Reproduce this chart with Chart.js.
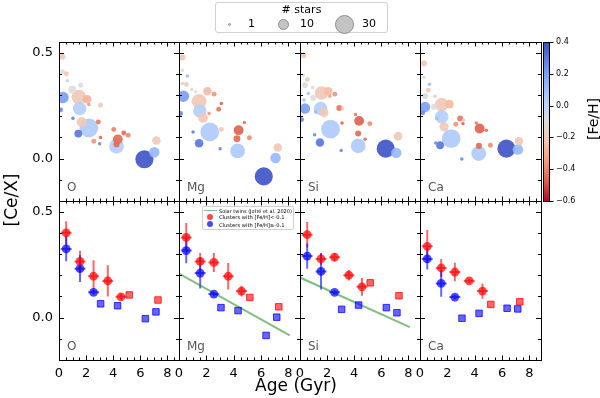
<!DOCTYPE html>
<html><head><meta charset="utf-8">
<script src="https://cdn.jsdelivr.net/npm/chart.js@4/dist/chart.umd.min.js"></script>
<style>
html,body{margin:0;padding:0;background:#fff;}
#wrap{position:relative;width:600px;height:398px;overflow:hidden;font-family:"DejaVu Sans",sans-serif;color:#000;}
#wrap canvas{position:absolute;left:0;top:0;}
.t{position:absolute;white-space:nowrap;}
.plab{position:absolute;font-size:12px;line-height:12px;color:#555;}
.dot{position:absolute;border-radius:50%;box-sizing:border-box;}
</style></head>
<body><div id="wrap"></div>
<script>
// ---------------- data ----------------
const X_MIN = 0, X_MAX = 8.85, Y_MIN = -0.2, Y_MAX = 0.55;
const xTickLabels = [0, 2, 4, 6, 8];
const yTickLabels = [0.0, 0.5];
const cbTickLabels = [-0.6, -0.4, -0.2, 0.0, 0.2, 0.4];
const elements = ['O', 'Mg', 'Si', 'Ca'];

// top row: individual clusters (age, [Ce/X], [Fe/H], number of stars)
const ageO = [0.25,0.25,0.54,0.61,0.29,0.98,1.59,1.47,2.08,2.2,3.06,0.12,1.52,1.03,1.67,2.2,2.9,1.42,2.57,3.06,3.0,4.04,4.34,4.78,5.1,4.24,4.24,7.18,7.03,6.3];
const ceO  = [0.48,0.41,0.40,0.367,0.288,0.326,0.346,0.29,0.28,0.255,0.252,0.23,0.236,0.19,0.173,0.145,0.173,0.118,0.082,0.10,0.07,0.137,0.091,0.121,0.11,0.058,0.066,0.085,0.03,-0.003];
const fehO = [-0.2,-0.1,-0.22,0.0,0.2,-0.1,-0.08,-0.2,-0.28,-0.35,-0.2,0.25,0.03,0.28,-0.2,0.05,-0.42,0.3,-0.36,-0.45,0.25,-0.4,-0.45,-0.45,-0.38,0.03,-0.45,-0.2,0.12,0.38];
const nO   = [3,2,2,1,11,5,2,18,6,1,2,2,15,1,8,29,2,5,2,1,1,2,8,2,2,18,3,6,9,27];

const ageMg = [0.25,0.25,0.61,0.54,0.25,0.93,1.22,0.32,2.08,2.57,1.47,3.1,2.9,0.12,1.52,1.76,2.2,4.78,1.03,2.25,3.1,4.36,4.24,5.15,1.47,3.01,4.29,7.23,7.06,6.2];
const ceMg  = [0.477,0.417,0.39,0.35,0.354,0.326,0.315,0.294,0.318,0.304,0.27,0.26,0.233,0.213,0.225,0.192,0.213,0.17,0.126,0.126,0.137,0.134,0.094,0.098,0.072,0.047,0.036,0.052,0.003,-0.084];
const fehMg = [-0.2,-0.08,0.1,-0.2,-0.02,-0.12,-0.1,0.2,-0.25,-0.36,-0.2,-0.47,-0.42,0.25,0.03,-0.2,-0.36,-0.42,0.28,0.05,-0.2,-0.47,-0.45,-0.38,0.3,0.25,0.05,-0.2,0.12,0.38];
const nMg   = [3,1,1,2,1,1,1,11,6,2,18,1,2,2,15,8,1,1,1,29,2,8,4,2,6,1,18,6,9,27];

const ageSi = [0.25,0.25,0.54,0.37,0.93,0.61,1.59,2.08,2.2,2.57,0.98,0.29,0.37,1.52,1.76,1.15,2.9,3.14,0.12,4.09,4.36,5.15,3.1,2.25,1.08,4.29,7.23,4.8,1.47,3.04,4.29,6.32,7.1];
const ceSi  = [0.488,0.394,0.373,0.346,0.335,0.307,0.31,0.318,0.294,0.304,0.287,0.276,0.236,0.236,0.217,0.22,0.239,0.236,0.184,0.208,0.178,0.165,0.168,0.139,0.113,0.118,0.106,0.091,0.076,0.038,0.06,0.047,0.027];
const fehSi = [-0.2,-0.1,-0.2,-0.08,-0.15,0.08,-0.2,-0.25,-0.32,-0.36,-0.1,0.1,0.2,0.03,-0.2,0.1,-0.42,-0.2,0.25,-0.42,-0.47,-0.38,-0.47,0.05,0.25,-0.45,-0.2,-0.45,0.3,0.25,0.05,0.38,0.12];
const nSi   = [3,1,2,3,1,1,15,6,1,2,3,1,9,15,7,1,3,1,2,1,8,2,1,29,1,3,6,1,6,1,18,27,9];

const ageCa = [0.29,0.29,0.69,0.61,0.37,1.1,1.59,2.16,1.03,0.37,0.2,1.59,1.22,2.94,3.19,3.14,2.62,1.76,4.12,4.36,4.85,2.28,1.15,1.47,4.31,5.15,7.23,6.32,7.16,4.29,3.06];
const ceCa  = [0.449,0.384,0.351,0.323,0.294,0.294,0.255,0.257,0.244,0.244,0.216,0.197,0.189,0.189,0.181,0.165,0.162,0.15,0.168,0.142,0.134,0.094,0.074,0.063,0.06,0.063,0.082,0.047,0.043,0.024,-0.002];
const fehCa = [-0.2,-0.08,0.1,-0.2,-0.08,-0.2,-0.2,-0.25,-0.1,0.2,0.25,0.03,0.1,-0.42,-0.2,-0.47,-0.36,-0.2,-0.42,-0.47,-0.45,0.05,0.25,0.3,-0.45,-0.38,-0.2,0.38,0.12,0.05,0.25];
const nCa   = [3,1,1,2,3,1,15,6,3,9,2,15,1,3,1,1,2,7,1,8,1,29,1,5,3,2,6,27,9,18,1];

// bottom row: binned clusters
const binAgePoor = [0.53, 1.55, 2.55, 3.6, 4.57];
const binAgeRich = [0.53, 1.55, 2.55];
const binAgeErr = 0.4;
const sqAgePoor = [5.18, 7.3];
const sqAgeRich = [3.07, 4.32, 6.37, 7.15];

const poorO = [0.40,0.265,0.195,0.173,0.098],  poorErrO = [0.055,0.05,0.076,0.074,0.015];
const richO = [0.324,0.231,0.119],             richErrO = [0.058,0.063,0.01];
const sqPoorO = [0.107,0.083], sqRichO = [0.065,0.056,-0.005,0.027];

const poorMg = [0.378,0.265,0.26,0.195,0.125], poorErrMg = [0.068,0.04,0.045,0.062,0.025];
const richMg = [0.316,0.21,0.111],             richErrMg = [0.06,0.073,0.01];
const sqPoorMg = [0.095,0.051], sqRichMg = [0.047,0.033,-0.084,0.002];

const poorSi = [0.391,0.277,0.285,0.2,0.145],  poorErrSi = [0.06,0.027,0.02,0.025,0.042];
const richSi = [0.29,0.218,0.119],             richErrSi = [0.06,0.085,0.01];
const sqPoorSi = [0.164,0.103], sqRichSi = [0.039,0.059,0.047,0.023];

const poorCa = [0.336,0.234,0.215,0.173,0.125], poorErrCa = [0.077,0.043,0.044,0.01,0.036];
const richCa = [0.277,0.161,0.097],             richErrCa = [0.05,0.063,0.01];
const sqPoorCa = [0.062,0.075], sqRichCa = [-0.003,0.02,0.044,0.041];

// solar twins trend (Jofré et al. 2020)
const twinAge = [0, 8.1];
const twinMg = [0.207, -0.084];
const twinSi = [0.189, -0.045];

// ---------------- helpers ----------------
const FONT = '"DejaVu Sans", sans-serif';
const colEdges = [59, 179, 300, 420, 541];
const rowEdges = [42, 201, 360];
const AXW = 45, AXH = 30;
const wrap = document.getElementById('wrap');

const CW = [[59,76,192],[98,130,234],[141,176,254],[184,208,249],[221,221,221],[245,196,173],[244,154,123],[222,96,77],[180,4,38]];
function coolwarm(s){ s=Math.min(1,Math.max(0,s)); const f=s*8; const i=Math.min(7,Math.floor(f)); const t=f-i; const a=CW[i], b=CW[i+1]; return a.map((v,k)=>Math.round(v+(b[k]-v)*t)); }
function fehColor(v, alpha){ const c=coolwarm(0.4 - v); return `rgba(${c[0]},${c[1]},${c[2]},${alpha})`; }

function newCanvas(){ const c=document.createElement('canvas'); c.width=600; c.height=398; c.style.width='600px'; c.style.height='398px'; wrap.appendChild(c); return c; }

const frameTicks = {
  id:'frameTicks',
  afterDraw(chart){
    const {ctx, chartArea:a, scales:{x,y}} = chart;
    ctx.save();
    ctx.strokeStyle='#000'; ctx.lineWidth=1;
    ctx.beginPath();
    for (let i=0; i*0.5<=X_MAX+1e-9; i++){
      const v=i*0.5; const px=Math.round(x.getPixelForValue(v))+0.5;
      const L = (i%4===0) ? 4.5 : 2.5;
      ctx.moveTo(px,a.bottom); ctx.lineTo(px,a.bottom-L);
      ctx.moveTo(px,a.top); ctx.lineTo(px,a.top+L);
    }
    for (let i=-1; i<=5; i++){
      const v=i/10; const py=Math.round(y.getPixelForValue(v))+0.5;
      const L = (i%5===0) ? 5 : 3;
      ctx.moveTo(a.left,py); ctx.lineTo(a.left+L,py);
      ctx.moveTo(a.right,py); ctx.lineTo(a.right-L,py);
    }
    ctx.stroke();
    const l=Math.round(a.left), t=Math.round(a.top), r=Math.round(a.right), b=Math.round(a.bottom);
    ctx.strokeRect(l+0.5,t+0.5,r-l,b-t);
    ctx.restore();
  }
};

const errorBars = {
  id:'errorBars',
  beforeDatasetsDraw(chart){
    const {ctx, chartArea:a, scales:{x,y}} = chart;
    ctx.save();
    ctx.beginPath(); ctx.rect(a.left,a.top,a.width,a.height); ctx.clip();
    chart.data.datasets.forEach(ds=>{
      if(!ds.errY) return;
      ctx.strokeStyle=ds.errColor; ctx.lineWidth=2;
      ds.data.forEach((p,i)=>{
        const px=x.getPixelForValue(p.x), py=y.getPixelForValue(p.y);
        ctx.beginPath();
        ctx.moveTo(px, y.getPixelForValue(p.y-ds.errY[i])); ctx.lineTo(px, y.getPixelForValue(p.y+ds.errY[i]));
        ctx.moveTo(x.getPixelForValue(p.x-ds.errX), py); ctx.lineTo(x.getPixelForValue(p.x+ds.errX), py);
        ctx.stroke();
      });
    });
    ctx.restore();
  }
};

function panelOptions(col,row){
  const L=colEdges[col], R=colEdges[col+1], T=rowEdges[row], B=rowEdges[row+1];
  return {
    responsive:false, animation:false, devicePixelRatio:1, events:[],
    layout:{padding:{left:L-AXW, right:600-R, top:T, bottom:398-B-AXH}},
    plugins:{legend:{display:false}, tooltip:{enabled:false}},
    scales:{
      x:{type:'linear', min:X_MIN, max:X_MAX,
         grid:{display:false, drawTicks:false}, border:{display:false},
         ticks:{display: row===1, font:{family:FONT,size:13}, color:'#000', padding:6, autoSkip:false, maxRotation:0, callback:v=>String(v)},
         afterBuildTicks:s=>{ s.ticks = xTickLabels.map(v=>({value:v})); },
         afterFit:s=>{ s.height=AXH; }},
      y:{type:'linear', min:Y_MIN, max:Y_MAX,
         grid:{display:false, drawTicks:false}, border:{display:false},
         ticks:{display: col===0, font:{family:FONT,size:13}, color:'#000', padding:6, autoSkip:false, callback:v=>Number(v).toFixed(1)},
         afterBuildTicks:s=>{ s.ticks = yTickLabels.map(v=>({value:v})); },
         afterFit:s=>{ s.width=AXW; }}
    }
  };
}

// ---------------- top row: bubbles ----------------
const topSets = [[ageO,ceO,fehO,nO],[ageMg,ceMg,fehMg,nMg],[ageSi,ceSi,fehSi,nSi],[ageCa,ceCa,fehCa,nCa]];
topSets.forEach(([age,ce,feh,n],col)=>{
  const idx = age.map((_,i)=>i).sort((a,b)=>n[b]-n[a]);
  new Chart(newCanvas(), {
    type:'bubble',
    data:{datasets:[{
      data: idx.map(i=>({x:age[i], y:ce[i], r:1.74*Math.sqrt(n[i])})),
      backgroundColor: idx.map(i=>fehColor(feh[i],0.92)),
      borderWidth:0, clip:0
    }]},
    options: panelOptions(col,0),
    plugins:[frameTicks]
  });
});

// ---------------- bottom row: binned ----------------
const botSets = [
  [poorO,poorErrO,richO,richErrO,sqPoorO,sqRichO,null],
  [poorMg,poorErrMg,richMg,richErrMg,sqPoorMg,sqRichMg,twinMg],
  [poorSi,poorErrSi,richSi,richErrSi,sqPoorSi,sqRichSi,twinSi],
  [poorCa,poorErrCa,richCa,richErrCa,sqPoorCa,sqRichCa,null]
];
botSets.forEach(([poor,poorErr,rich,richErr,sqPoor,sqRich,twin],col)=>{
  const ds = [
    {type:'scatter', order:1, data: poor.map((v,i)=>({x:binAgePoor[i], y:v})), errY:poorErr, errX:binAgeErr, errColor:'rgba(255,0,0,0.6)',
     pointStyle:'circle', pointRadius:4.4, backgroundColor:'rgba(255,0,0,0.72)', borderWidth:0, clip:0},
    {type:'scatter', order:1, data: rich.map((v,i)=>({x:binAgeRich[i], y:v})), errY:richErr, errX:binAgeErr, errColor:'rgba(0,0,255,0.6)',
     pointStyle:'circle', pointRadius:4.4, backgroundColor:'rgba(0,0,255,0.72)', borderWidth:0, clip:0},
    {type:'scatter', order:2, data: sqPoor.map((v,i)=>({x:sqAgePoor[i], y:v})),
     pointStyle:'rect', pointRadius:4.6, backgroundColor:'rgba(255,0,0,0.6)', borderColor:'rgba(255,0,0,0.75)', borderWidth:1, clip:0},
    {type:'scatter', order:2, data: sqRich.map((v,i)=>({x:sqAgeRich[i], y:v})),
     pointStyle:'rect', pointRadius:4.6, backgroundColor:'rgba(0,0,255,0.6)', borderColor:'rgba(0,0,255,0.75)', borderWidth:1, clip:0}
  ];
  if (twin) ds.push({type:'line', order:3, data: twin.map((v,i)=>({x:twinAge[i], y:v})), borderColor:'rgba(0,128,0,0.5)', borderWidth:2, pointRadius:0, clip:0});
  new Chart(newCanvas(), {type:'scatter', data:{datasets:ds}, options: panelOptions(col,1), plugins:[errorBars, frameTicks]});
});

// ---------------- colorbar ----------------
const cbPlugin = {
  id:'cb',
  beforeDraw(chart){
    const {ctx, chartArea:a, scales:{y}} = chart;
    const g = ctx.createLinearGradient(0,a.bottom,0,a.top);
    for (let k=0;k<=16;k++){ const o=k/16; const c=coolwarm(1-o); g.addColorStop(o,`rgb(${c[0]},${c[1]},${c[2]})`); }
    ctx.save();
    ctx.fillStyle=g; ctx.fillRect(a.left,a.top,a.width,a.height);
    ctx.strokeStyle='#000'; ctx.lineWidth=1;
    ctx.strokeRect(Math.round(a.left)+0.5,Math.round(a.top)+0.5,Math.round(a.width)-1,Math.round(a.height));
    ctx.beginPath();
    cbTickLabels.forEach(v=>{ const py=Math.round(y.getPixelForValue(v))+0.5; ctx.moveTo(a.right,py); ctx.lineTo(a.right+3.5,py); });
    ctx.stroke();
    ctx.restore();
  }
};
const CBW = 40;
new Chart(newCanvas(), {
  type:'scatter', data:{datasets:[{data:[]}]},
  options:{
    responsive:false, animation:false, devicePixelRatio:1, events:[],
    layout:{padding:{left:543, right:600-550-CBW, top:42, bottom:398-201}},
    plugins:{legend:{display:false}, tooltip:{enabled:false}},
    scales:{
      x:{display:false, min:0, max:1},
      y:{type:'linear', position:'right', min:-0.6, max:0.4,
         grid:{display:false, drawTicks:false}, border:{display:false},
         ticks:{font:{family:FONT,size:8}, color:'#000', padding:6, autoSkip:false, callback:v=>Number(v).toFixed(1).replace('-','\u2212')},
         afterBuildTicks:s=>{ s.ticks = cbTickLabels.map(v=>({value:v})); },
         afterFit:s=>{ s.width=CBW; }}
    }
  },
  plugins:[cbPlugin]
});

// ---------------- text & legends ----------------
function addText(html, css, cls){ const d=document.createElement('div'); d.className=cls||'t'; d.innerHTML=html; d.style.cssText+=css; wrap.appendChild(d); return d; }

elements.forEach((el,col)=>{
  [0,1].forEach(row=>{
    addText(el, `left:${colEdges[col]+8}px;top:${rowEdges[row+1]-20}px;`, 'plab');
  });
});

addText('[Ce/X]', 'left:-29px;top:190px;width:80px;height:20px;line-height:20px;text-align:center;font-size:17px;transform:rotate(-90deg);');
addText('Age (Gyr)', 'left:246px;top:377px;width:100px;line-height:17px;text-align:center;font-size:17px;');
addText('[Fe/H]', 'left:553px;top:110px;width:80px;height:18px;line-height:18px;text-align:center;font-size:14px;transform:rotate(-90deg);');

// bubble size legend
addText('', 'left:215px;top:2px;width:173px;height:31px;border:1px solid #d0d0d0;border-radius:3px;background:#fff;box-sizing:border-box;');
addText('# stars', 'left:215px;top:4px;width:173px;text-align:center;font-size:11px;line-height:12px;');
const legendStars = [1, 10, 30];
const legendX = [229.3, 284, 344.3];
const legendTextX = [248, 300, 362];
legendStars.forEach((s,i)=>{
  const r = 1.74*Math.sqrt(s);
  addText('', `left:${legendX[i]-r}px;top:${24.3-r}px;width:${2*r}px;height:${2*r}px;background:#c4c4c4;border:1px solid #8f8f8f;`, 'dot');
  addText(String(s), `left:${legendTextX[i]}px;top:18px;font-size:11px;line-height:12px;`);
});

// bottom legend in Mg panel
addText('', 'left:202px;top:206px;width:92px;height:24px;border:1px solid #d0d0d0;border-radius:2px;background:rgba(255,255,255,0.85);box-sizing:border-box;');
addText('', 'left:204px;top:209.5px;width:13px;height:1.6px;background:rgba(0,128,0,0.5);');
addText('', 'left:207px;top:213.7px;width:6px;height:6px;background:rgba(255,0,0,0.72);', 'dot');
addText('', 'left:207px;top:221.3px;width:6px;height:6px;background:rgba(0,0,255,0.72);', 'dot');
addText('Solar twins (Jofré et al. 2020)', 'left:219px;top:207.5px;font-size:5px;line-height:6px;');
addText('Clusters with [Fe/H]&lt;-0.1', 'left:219px;top:214px;font-size:5.2px;line-height:6px;');
addText('Clusters with [Fe/H]≥-0.1', 'left:219px;top:221.5px;font-size:5.2px;line-height:6px;');
</script>
</body></html>
